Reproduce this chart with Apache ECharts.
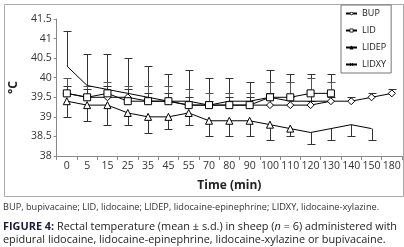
<!DOCTYPE html>
<html><head><meta charset="utf-8">
<script src="https://cdn.jsdelivr.net/npm/echarts@6/dist/echarts.min.js"></script>
<style>html,body{margin:0;padding:0;background:#fff}#c{width:404px;height:247px}</style>
</head><body><div id="c"></div>
<script>
const categories = ['0','5','15','25','35','45','55','70','80','90','100','110','120','130','140','150','180'];
const yTicks = [38, 38.5, 39, 39.5, 40, 40.5, 41, 41.5];
const bup   = [39.6,39.5,39.5,39.5,39.4,39.4,39.3,39.3,39.3,39.3,39.3,39.3,39.3,39.4,39.4,39.5,39.6];
const lid   = [39.6,39.5,39.6,39.4,39.4,39.4,39.3,39.3,39.3,39.3,39.5,39.5,39.6,39.6,null,null,null];
const lidep = [39.4,39.3,39.3,39.1,39.0,39.0,39.1,38.9,38.9,38.9,38.8,38.7,38.6,38.7,38.8,38.7,null];
const lidxy = [40.3,39.8,39.7,39.6,39.5,39.4,39.4,39.3,39.4,39.4,39.5,39.4,39.4,39.4,null,null,null];
// error bar ends (mean + s.d. for BUP, LID, LIDXY; mean - s.d. for LIDEP)
const bupHi   = [39.8,39.7,39.8,39.7,39.6,39.6,39.5,39.4,39.5,39.5,39.6,39.5,39.4,39.5,39.5,39.6,39.7];
const lidHi   = [40.0,39.8,39.9,39.8,39.8,39.8,39.7,39.6,39.6,39.6,39.9,39.9,40.0,39.9,null,null,null];
const lidxyHi = [41.2,40.6,40.6,40.5,40.3,40.1,40.2,40.0,40.0,39.9,40.2,40.1,40.1,40.1,null,null,null];
const lidepLo = [39.0,38.9,38.8,38.8,38.6,38.7,38.8,38.5,38.5,38.5,38.4,38.5,38.3,38.4,38.5,38.4,null];

const FONT = '"Open Sans", sans-serif';
function bars(mean, end){
  const out = [];
  mean.forEach((m,i)=>{ if(m!=null && end[i]!=null) out.push([i, m, end[i]]); });
  return out;
}
function errSeries(mean, end, color){
  return {
    type:'custom', z:1, silent:true,
    data: bars(mean,end),
    encode:{x:0, y:[1,2]},
    renderItem:function(params, api){
      const a = api.coord([api.value(0), api.value(1)]);
      const b = api.coord([api.value(0), api.value(2)]);
      const x = Math.round(a[0]) + 0.5;
      const yb = Math.round(b[1]) + 0.5;
      return {type:'group', children:[
        {type:'line', shape:{x1:x, y1:a[1], x2:x, y2:yb}, style:{stroke:color, lineWidth:1}},
        {type:'line', shape:{x1:x-4, y1:yb, x2:x+4, y2:yb}, style:{stroke:color, lineWidth:1}}
      ]};
    }
  };
}
const xPath = 'path://M0,0 L10,10 M10,0 L0,10';
const lidepData = lidep.map((v,i)=> i>=12 ? {value:v, symbol:'none'} : v);

const chart = echarts.init(document.getElementById('c'), null, {renderer:'canvas'});
chart.setOption({
  animation:false,
  backgroundColor:'#fff',
  grid:{left:49, right:2, top:19, bottom:91, containLabel:false},
  legend:{
    orient:'vertical', left:341, top:5, width:43,
    borderColor:'#777', borderWidth:1, padding:[4,5,4,4],
    itemWidth:11, itemHeight:4, itemGap:8,
    textStyle:{fontFamily:FONT, fontSize:9, color:'#222', padding:[0,0,0,0]},
    data:[
      {name:'BUP', itemStyle:{borderWidth:0.8}},
      {name:'LID', itemStyle:{borderWidth:0.8}},
      {name:'LIDEP', itemStyle:{color:'#000', borderWidth:0.8}},
      {name:'LIDXY', itemStyle:{borderWidth:0.8}}
    ]
  },
  xAxis:{
    type:'category', data:categories, boundaryGap:true,
    name:'Time (min)', nameLocation:'middle', nameGap:24,
    nameTextStyle:{fontFamily:FONT, fontSize:12, fontWeight:'bold', color:'#222'},
    axisLine:{lineStyle:{color:'#888'}},
    axisTick:{show:true, length:4, lineStyle:{color:'#888'}},
    axisLabel:{fontFamily:FONT, fontSize:10.5, color:'#333', margin:5, interval:0}
  },
  yAxis:{
    type:'value', min:yTicks[0], max:yTicks[yTicks.length-1], interval:0.5,
    name:'°C', nameLocation:'middle', nameRotate:90, nameGap:26,
    nameTextStyle:{fontFamily:FONT, fontSize:12, fontWeight:'bold', color:'#222'},
    splitLine:{show:false},
    axisLine:{show:true, lineStyle:{color:'#888'}},
    axisTick:{show:true, length:3, lineStyle:{color:'#888'}},
    axisLabel:{fontFamily:FONT, fontSize:10.5, color:'#333', margin:5}
  },
  series:[
    errSeries(lidxy, lidxyHi, '#333'),
    errSeries(lid, lidHi, '#555'),
    errSeries(bup, bupHi, '#333'),
    errSeries(lidep, lidepLo, '#333'),
    {name:'BUP', type:'line', data:bup, z:3, symbol:'diamond', symbolSize:7,
     lineStyle:{color:'#000', width:1}, itemStyle:{color:'#fff', borderColor:'#000', borderWidth:1}},
    {name:'LID', type:'line', data:lid, z:3, symbol:'rect', symbolSize:7,
     lineStyle:{color:'#000', width:1}, itemStyle:{color:'#fff', borderColor:'#000', borderWidth:1}},
    {name:'LIDEP', type:'line', data:lidepData, z:3, symbol:'triangle', symbolSize:7,
     lineStyle:{color:'#000', width:1}, itemStyle:{color:'#fff', borderColor:'#000', borderWidth:1}},
    {name:'LIDXY', type:'line', data:lidxy, z:2, symbol:xPath, symbolSize:6, showSymbol:false,
     lineStyle:{color:'#000', width:1}, itemStyle:{color:'#000', borderColor:'#000', borderWidth:1}}
  ],
  graphic:[
    {type:'rect', left:2, top:2, shape:{x:0,y:0,width:399,height:192}, style:{fill:'none', stroke:'#aaa', lineWidth:1}, z:-1, silent:true},
    {type:'text', left:3, top:203, style:{text:'BUP, bupivacaine; LID, lidocaine; LIDEP, lidocaine-epinephrine; LIDXY, lidocaine-xylazine.', fontFamily:FONT, fontSize:9.2, fill:'#333'}},
    {type:'text', left:3, top:221, style:{
      text:'{b|FIGURE 4:} Rectal temperature (mean ± s.d.) in sheep ({i|n} = 6) administered with\nepidural lidocaine, lidocaine-epinephrine, lidocaine-xylazine or bupivacaine.',
      fontFamily:FONT, fontSize:10.9, fill:'#222', lineHeight:12.5,
      rich:{b:{fontFamily:FONT, fontSize:10.9, fontWeight:'bold', fill:'#1a1a3a', lineHeight:12.5}, i:{fontFamily:FONT, fontSize:10.9, fontStyle:'italic', fill:'#222', lineHeight:12.5}}
    }}
  ]
});
</script></body></html>
